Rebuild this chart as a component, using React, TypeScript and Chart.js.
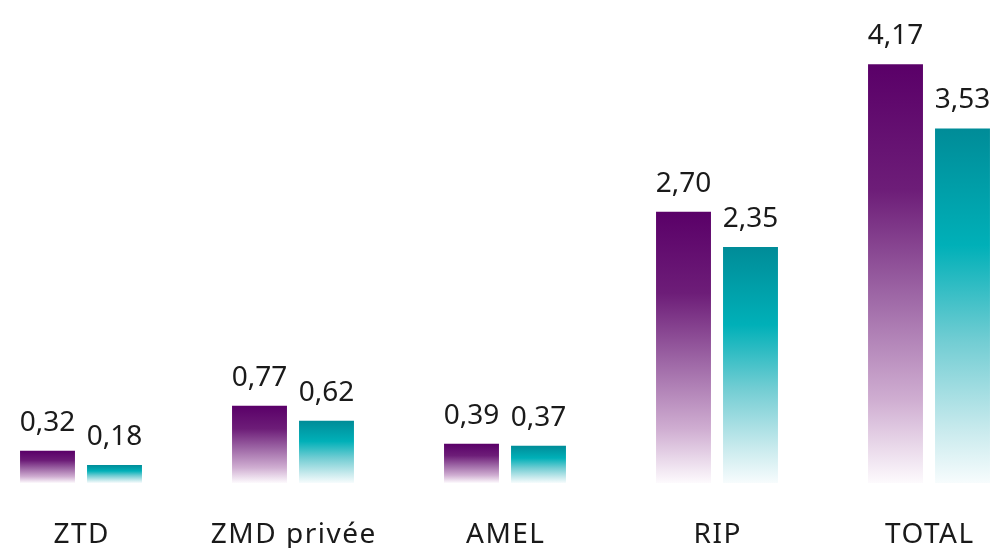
import React, { useEffect, useRef } from "react";
import { Chart, registerables } from "chart.js";

Chart.register(...registerables);

const categories = ["ZTD", "ZMD privée", "AMEL", "RIP", "TOTAL"];
const seriesA = [0.32, 0.77, 0.39, 2.7, 4.17];
const seriesB = [0.18, 0.62, 0.37, 2.35, 3.53];

const FONT = "'Noto Sans', sans-serif";
const TEXT = "#1a1a1a";

function makeGradient(ctx: any, stops: [number, string][]) {
  const chart = ctx.chart;
  const y = chart.scales?.y;
  if (!y || ctx.type !== "data") return stops[0][1];
  const top = y.getPixelForValue(ctx.raw);
  const base = y.getPixelForValue(0);
  if (!isFinite(top) || !isFinite(base) || top === base) return stops[0][1];
  const g = chart.ctx.createLinearGradient(0, top, 0, base);
  stops.forEach(([o, c]) => g.addColorStop(o, c));
  return g;
}

const purpleStops: [number, string][] = [
  [0, "#5a0068"],
  [0.3, "#6d1d78"],
  [0.55, "#9d66a5"],
  [0.8, "#cfadd1"],
  [1, "#fdfafd"],
];
const tealStops: [number, string][] = [
  [0, "#008c98"],
  [0.33, "#00b0b8"],
  [0.6, "#72cdd3"],
  [0.85, "#c8eaed"],
  [1, "#f7fcfd"],
];

const textPlugin = {
  id: "textPlugin",
  afterDatasetsDraw(chart: any) {
    const ctx = chart.ctx;
    ctx.save();
    ctx.font = `28px ${FONT}`;
    ctx.fillStyle = TEXT;
    ctx.textAlign = "center";
    ctx.textBaseline = "alphabetic";
    chart.data.datasets.forEach((ds: any, di: number) => {
      const meta = chart.getDatasetMeta(di);
      meta.data.forEach((bar: any, i: number) => {
        const v = ds.data[i] as number;
        ctx.fillText(v.toFixed(2).replace(".", ","), bar.x, bar.y - 20);
      });
    });
    // category labels
    const xs = chart.scales.x;
    ctx.font = `28px ${FONT}`;
    (ctx as any).letterSpacing = "1.5px";
    chart.data.labels.forEach((lab: string, i: number) => {
      const x = xs.getPixelForTick(i);
      ctx.fillText(lab, x + 0.75, 543);
    });
    ctx.restore();
  },
};

export default function App() {
  const ref = useRef<HTMLCanvasElement>(null);
  useEffect(() => {
    if (!ref.current) return;
    const chart = new Chart(ref.current, {
      type: "bar",
      data: {
        labels: categories,
        datasets: [
          {
            label: "A",
            data: seriesA,
            backgroundColor: (c: any) => makeGradient(c, purpleStops),
            clip: false as any,
            categoryPercentage: 0.632,
            barPercentage: 0.82,
          },
          {
            label: "B",
            data: seriesB,
            backgroundColor: (c: any) => makeGradient(c, tealStops),
            clip: false as any,
            categoryPercentage: 0.632,
            barPercentage: 0.82,
          },
        ],
      },
      options: {
        responsive: false,
        animation: false,
        devicePixelRatio: 1,
        layout: { padding: { left: 81, right: 61, top: 31, bottom: 0 } },
        plugins: { legend: { display: false }, tooltip: { enabled: false } },
        scales: {
          x: {
            offset: false,
            grid: { display: false, drawTicks: false, offset: false },
            border: { display: false },
            ticks: { display: false, autoSkip: false, maxRotation: 0 },
            afterFit: (s: any) => {
              s.height = 65;
            },
          },
          y: {
            display: false,
            min: 0,
            max: 4.5,
          },
        },
      },
      plugins: [textPlugin],
    });
    return () => chart.destroy();
  }, []);
  return (
    <div style={{ position: "fixed", left: 0, top: 0, width: 990, height: 548, background: "#fff" }}>
      <canvas ref={ref} width={990} height={548} />
    </div>
  );
}
